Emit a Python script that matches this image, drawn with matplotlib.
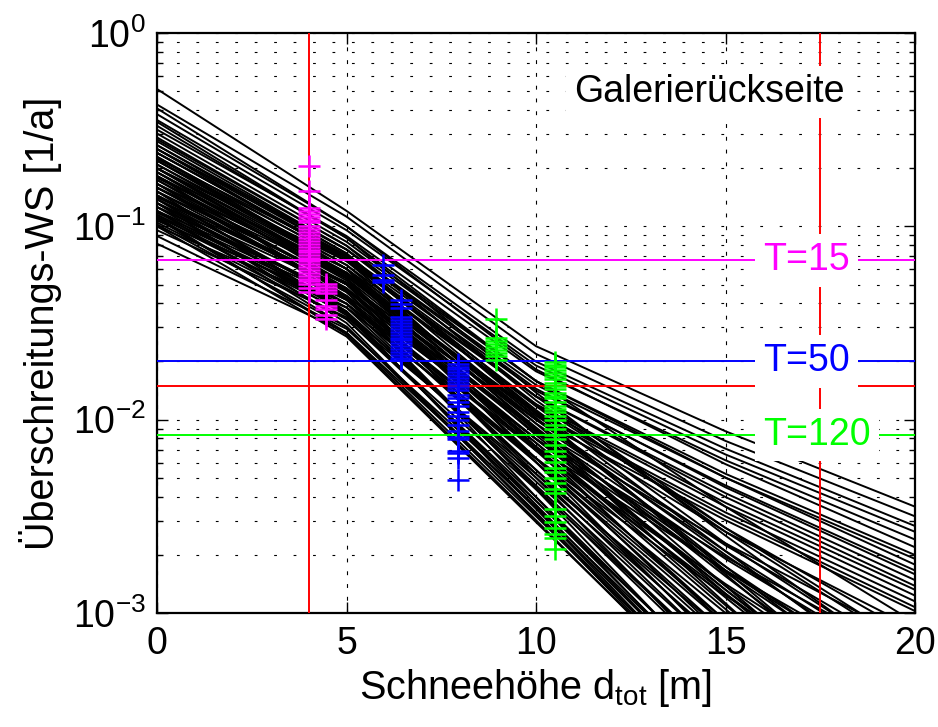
import matplotlib
matplotlib.use('Agg')
import matplotlib.pyplot as plt
import numpy as np
from matplotlib.ticker import LogLocator, NullFormatter

plt.rcParams['font.family'] = ['Liberation Sans', 'DejaVu Sans']
plt.rcParams['mathtext.fontset'] = 'custom'
plt.rcParams['mathtext.rm'] = 'Liberation Sans'
plt.rcParams['mathtext.it'] = 'Liberation Sans:italic'
plt.rcParams['mathtext.bf'] = 'Liberation Sans:bold'

# ---------------- data ----------------
# snow depth knots [m] at which each curve's exceedance probability was read
knots_x = [0, 5, 10, 15, 20]

# log10 of exceedance probability of each curve at x = 0, 5, 10, 15, 20
logP_x0 = [-0.29, -0.37, -0.39, -0.45, -0.50, -0.42, -0.55, -0.60, -0.52, -0.65,
           -0.58, -0.70, -0.62, -0.75, -0.68, -0.80, -0.72, -0.85, -0.48, -0.78,
           -0.66, -0.88, -0.56, -0.74, -0.92, -0.62, -0.82, -0.97, -0.70, -0.86,
           -0.46, -0.76, -0.93, -0.64, -0.80, -1.00, -0.58, -0.72,
           -0.90, -0.84, -0.68, -0.95, -0.78, -0.60, -0.88, -1.02, -0.74, -0.82,
           -0.66, -0.96, -0.86, -0.70, -0.92, -0.80, -0.98, -0.76, -0.88, -0.64,
           -1.05, -0.84, -0.94, -0.72, -1.09, -0.90, -0.78, -0.99, -0.86, -0.96,
           -0.74, -0.92, -1.00, -0.82, -0.95, -0.88,
           -0.62, -0.80, -0.70, -0.90, -0.54, -0.74, -0.84, -0.66, -0.94, -0.60]
logP_x5 = [-0.92, -0.95, -1.00, -1.02, -1.05, -1.00, -1.10, -1.12, -1.08, -1.15,
           -1.12, -1.18, -1.16, -1.22, -1.20, -1.26, -1.24, -1.30, -1.06, -1.25,
           -1.17, -1.33, -1.12, -1.24, -1.36, -1.15, -1.29, -1.40, -1.22, -1.32,
           -1.06, -1.27, -1.38, -1.18, -1.30, -1.42, -1.14, -1.25,
           -1.36, -1.33, -1.22, -1.42, -1.30, -1.17, -1.38, -1.47, -1.28, -1.34,
           -1.22, -1.45, -1.38, -1.27, -1.44, -1.34, -1.48, -1.32, -1.42, -1.22,
           -1.53, -1.40, -1.48, -1.30, -1.55, -1.46, -1.37, -1.52, -1.45, -1.55,
           -1.36, -1.52, -1.57, -1.44, -1.56, -1.50,
           -1.16, -1.30, -1.24, -1.37, -1.10, -1.26, -1.33, -1.20, -1.40, -1.14]
logP_x10 = [-1.62, -1.66, -1.70, -1.72, -1.75, -1.74, -1.80, -1.82, -1.80, -1.85,
            -1.84, -1.88, -1.88, -1.92, -1.93, -1.96, -1.97, -2.00, -1.80, -1.98,
            -1.92, -2.05, -1.88, -2.00, -2.10, -1.93, -2.05, -2.14, -2.00, -2.10,
            -1.86, -2.06, -2.16, -1.99, -2.10, -2.20, -1.97, -2.08,
            -2.10, -2.12, -2.05, -2.20, -2.14, -2.06, -2.20, -2.28, -2.16, -2.22,
            -2.14, -2.30, -2.26, -2.20, -2.32, -2.26, -2.36, -2.28, -2.34, -2.22,
            -2.42, -2.35, -2.40, -2.30, -2.45, -2.42, -2.36, -2.46, -2.44, -2.50,
            -2.40, -2.48, -2.53, -2.46, -2.52, -2.49,
            -1.95, -2.07, -2.04, -2.15, -1.90, -2.02, -2.12, -2.02, -2.22, -1.96]
logP_x15 = [-2.06, -2.11, -2.15, -2.18, -2.21, -2.23, -2.28, -2.30, -2.30, -2.34,
            -2.35, -2.38, -2.40, -2.43, -2.45, -2.48, -2.50, -2.52, -2.45, -2.58,
            -2.56, -2.64, -2.56, -2.65, -2.71, -2.64, -2.72, -2.78, -2.70, -2.78,
            -2.60, -2.79, -2.85, -2.76, -2.86, -2.91, -2.78, -2.88,
            -2.88, -2.92, -2.90, -3.00, -2.98, -2.95, -3.04, -3.10, -3.04, -3.10,
            -3.06, -3.16, -3.14, -3.13, -3.22, -3.18, -3.26, -3.22, -3.26, -3.20,
            -3.35, -3.30, -3.36, -3.30, -3.40, -3.40, -3.38, -3.44, -3.44, -3.46,
            -3.42, -3.48, -3.48, -3.48, -3.50, -3.50,
            -2.68, -2.76, -2.81, -2.90, -2.58, -2.68, -2.96, -2.86, -3.06, -2.80]
logP_x20 = [-2.45, -2.50, -2.55, -2.58, -2.62, -2.66, -2.70, -2.72, -2.75, -2.78,
            -2.80, -2.83, -2.86, -2.88, -2.91, -2.94, -2.97, -2.99, -3.05, -3.08,
            -3.12, -3.15, -3.18, -3.22, -3.25, -3.28, -3.31, -3.34, -3.36, -3.40,
            -3.30, -3.45, -3.48, -3.50, -3.55, -3.55, -3.60, -3.65,
            -3.62, -3.70, -3.72, -3.78, -3.80, -3.82, -3.86, -3.92, -3.90, -3.96,
            -3.95, -4.02, -4.00, -4.05, -4.10, -4.08, -4.15, -4.15, -4.18, -4.16,
            -4.25, -4.24, -4.30, -4.28, -4.34, -4.36, -4.38, -4.42, -4.44, -4.45,
            -4.44, -4.48, -4.46, -4.50, -4.50, -4.52,
            -3.40, -3.42, -3.55, -3.62, -3.20, -3.30, -3.76, -3.70, -3.88, -3.62]

# marker columns (x position, log10 of probability)
magenta_x = [4.0, 4.45]
magenta_logP_a = [-0.69, -0.815, -0.905, -0.92, -0.935, -0.95, -0.965, -0.98, -1.00, -1.015,
                  -1.03, -1.045, -1.06, -1.075, -1.09, -1.105, -1.12, -1.135, -1.15, -1.165,
                  -1.18, -1.195, -1.21, -1.225, -1.24, -1.255, -1.27, -1.285, -1.30, -1.32,
                  -1.34]
magenta_logP_b = [-1.30, -1.315, -1.33, -1.345, -1.38, -1.41, -1.43, -1.46, -1.48]
blue_x = [5.95, 6.45, 7.95]
blue_logP_a = [-1.20, -1.25, -1.28, -1.29]
blue_logP_b = [-1.38, -1.40, -1.42, -1.47, -1.485, -1.50, -1.515, -1.53, -1.545, -1.56,
               -1.575, -1.59, -1.605, -1.62, -1.635, -1.65, -1.665, -1.68, -1.69]
blue_logP_c = [-1.71, -1.725, -1.74, -1.755, -1.77, -1.785, -1.80, -1.815, -1.83, -1.845,
               -1.87, -1.89, -1.91, -1.93, -1.96, -1.98, -2.00, -2.03, -2.06, -2.09,
               -2.10, -2.16, -2.17, -2.20, -2.31]
green_x = [8.95, 10.5]
green_logP_a = [-1.48, -1.58, -1.595, -1.61, -1.625, -1.64, -1.655, -1.67, -1.69]
green_logP_b = [-1.70, -1.715, -1.73, -1.745, -1.76, -1.775, -1.79, -1.81, -1.825, -1.84,
                -1.86, -1.875, -1.89, -1.91, -1.93, -1.945, -1.96, -1.98, -2.00, -2.03,
                -2.05, -2.08, -2.10, -2.13, -2.16, -2.19, -2.22, -2.25, -2.27, -2.30,
                -2.33, -2.36, -2.38, -2.46, -2.50, -2.53, -2.56, -2.59, -2.61, -2.67]

# return periods and reference lines
return_periods = [15, 50, 120]
return_labels = ['T=15', 'T=50', 'T=120']
return_colors = [(1, 0, 1), (0, 0, 1), (0, 1, 0)]
red_hline = 0.015
red_vlines = [4.0, 17.5]
title_text = 'Galerierückseite'

# ---------------- figure ----------------
FS = 27
LFS = 28.5
fig = plt.figure(figsize=(9.38, 7.27), dpi=100)
ax = fig.add_axes([0.1674, 0.1568, 0.8081, 0.7978])
ax.set_yscale('log')
ax.set_xlim(0, 20)
ax.set_ylim(1e-3, 1)

ax.yaxis.grid(True, which='both', color='k', lw=0.8, linestyle=(0, (2.5, 15)))
ax.xaxis.grid(True, which='major', color='k', lw=0.8, linestyle=(0, (3.5, 8)))
ax.set_axisbelow(True)

cols = np.array([logP_x0, logP_x5, logP_x10, logP_x15, logP_x20])
for i in range(cols.shape[1]):
    ax.plot(knots_x, 10.0 ** cols[:, i], color='k', lw=1.4, zorder=2,
            solid_joinstyle='round')

ax.axhline(red_hline, color='r', lw=1.4, zorder=3)
for xv in red_vlines:
    ax.axvline(xv, color='r', lw=1.4, zorder=3)
for T, c in zip(return_periods, return_colors):
    ax.axhline(1.0 / T, color=c, lw=1.4, zorder=3)

mk = dict(marker='+', ms=16, mew=1.8, linestyle='none', zorder=4)
ax.plot([magenta_x[0]] * len(magenta_logP_a), 10.0 ** np.array(magenta_logP_a), color=(1, 0, 1), **mk)
ax.plot([magenta_x[1]] * len(magenta_logP_b), 10.0 ** np.array(magenta_logP_b), color=(1, 0, 1), **mk)
ax.plot([blue_x[0]] * len(blue_logP_a), 10.0 ** np.array(blue_logP_a), color=(0, 0, 1), **mk)
ax.plot([blue_x[1]] * len(blue_logP_b), 10.0 ** np.array(blue_logP_b), color=(0, 0, 1), **mk)
ax.plot([blue_x[2]] * len(blue_logP_c), 10.0 ** np.array(blue_logP_c), color=(0, 0, 1), **mk)
ax.plot([green_x[0]] * len(green_logP_a), 10.0 ** np.array(green_logP_a), color=(0, 1, 0), **mk)
ax.plot([green_x[1]] * len(green_logP_b), 10.0 ** np.array(green_logP_b), color=(0, 1, 0), **mk)

box = dict(facecolor='white', edgecolor='none', boxstyle='square,pad=0.22')
for T, lab, c in zip(return_periods, return_labels, return_colors):
    ax.text(16.0, 1.0 / T, lab, color=c, fontsize=FS, ha='left', va='center',
            bbox=box, zorder=6)
ax.text(11.0, 0.495, title_text, color='k', fontsize=FS, ha='left', va='center',
        bbox=box, zorder=6)

ax.set_xticks([0, 5, 10, 15, 20])
ax.yaxis.set_major_locator(LogLocator(base=10, numticks=10))
ax.yaxis.set_minor_locator(LogLocator(base=10, subs=np.arange(2, 10), numticks=20))
ax.yaxis.set_minor_formatter(NullFormatter())
ax.tick_params(which='both', direction='in', top=True, right=True, width=1.0)
ax.tick_params(which='major', length=8, labelsize=FS)
ax.tick_params(which='minor', length=4)
ax.tick_params(axis='x', pad=9)
ax.tick_params(axis='y', pad=8)
for s in ax.spines.values():
    s.set_linewidth(1.6)

ax.set_xlabel('Schneehöhe d$_\\mathrm{tot}$ [m]', fontsize=LFS, labelpad=4)
ax.set_ylabel('Überschreitungs-WS [1/a]', fontsize=LFS, labelpad=8)

fig.savefig('out.png', dpi=100)
